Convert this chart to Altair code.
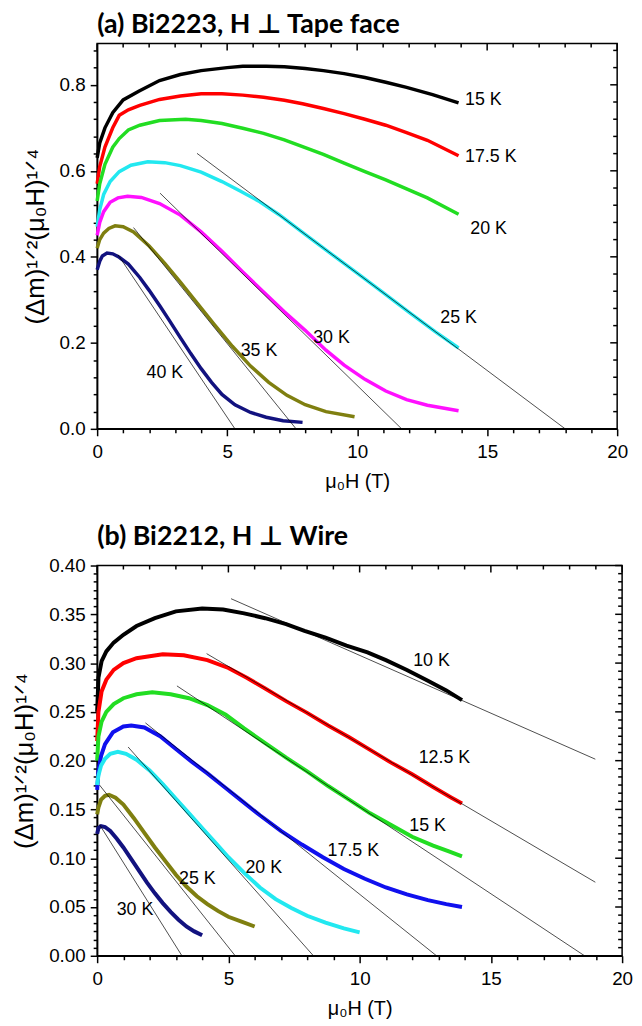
import altair as alt
import pandas as pd

# ---------------- common axis tick values ----------------
x_ticks = list(range(0, 21))
a_y_ticks = [round(0.04 * k, 2) for k in range(23)]
b_y_ticks = [round(0.05 * k / 6, 5) for k in range(49)]

# ---------------- Panel (a) Bi2223 ----------------
a_series = ["15 K", "17.5 K", "20 K", "25 K", "30 K", "35 K", "40 K"]
a_colors = ["#000000", "#ff0000", "#22dd22", "#22e8f0", "#ff10ff", "#7f7f10", "#12127f"]

a15_H = [0, 0.1, 0.3, 0.6, 1.0, 1.6, 2.4, 3.2, 4.0, 5.0, 5.6, 6.5, 7.2, 8.0, 8.7, 9.5, 10.3, 11.1, 11.9, 12.9, 13.9]
a15_v = [0.63, 0.665, 0.70, 0.735, 0.765, 0.785, 0.81, 0.824, 0.833, 0.840, 0.843, 0.843, 0.842, 0.838, 0.833, 0.826, 0.817, 0.806, 0.794, 0.777, 0.758]
a175_H = [0, 0.1, 0.3, 0.6, 0.85, 1.2, 1.64, 2.4, 3.2, 4.0, 4.8, 5.6, 6.4, 7.2, 7.9, 8.7, 9.5, 10.3, 11.1, 11.9, 12.7, 13.9]
a175_v = [0.57, 0.61, 0.655, 0.70, 0.729, 0.742, 0.752, 0.766, 0.774, 0.779, 0.779, 0.776, 0.771, 0.764, 0.756, 0.745, 0.733, 0.720, 0.706, 0.689, 0.671, 0.635]
a20_H = [0, 0.1, 0.3, 0.6, 0.85, 1.2, 1.64, 2.4, 3.4, 4.0, 4.8, 5.6, 6.4, 7.2, 7.9, 8.7, 9.5, 10.3, 11.1, 11.9, 12.7, 13.9]
a20_v = [0.53, 0.57, 0.615, 0.655, 0.675, 0.695, 0.706, 0.717, 0.720, 0.717, 0.710, 0.699, 0.687, 0.672, 0.656, 0.638, 0.618, 0.598, 0.579, 0.558, 0.537, 0.499]
a25_H = [0, 0.1, 0.25, 0.5, 0.85, 1.3, 1.95, 2.6, 3.2, 4.0, 4.8, 5.5, 6.2, 7.0, 8.0, 9.0, 10.0, 11.0, 12.0, 13.0, 13.9]
a25_v = [0.47, 0.51, 0.545, 0.575, 0.598, 0.613, 0.621, 0.619, 0.612, 0.597, 0.575, 0.553, 0.530, 0.498, 0.452, 0.407, 0.362, 0.317, 0.271, 0.226, 0.188]
a30_H = [0, 0.1, 0.25, 0.5, 0.8, 1.17, 1.7, 2.4, 3.2, 4.0, 4.8, 5.6, 6.4, 7.2, 8.0, 8.8, 9.5, 10.3, 11.1, 11.9, 12.7, 13.9]
a30_v = [0.45, 0.48, 0.505, 0.527, 0.537, 0.541, 0.538, 0.524, 0.497, 0.458, 0.413, 0.365, 0.318, 0.272, 0.229, 0.183, 0.148, 0.115, 0.088, 0.068, 0.055, 0.042]
a35_H = [0, 0.1, 0.25, 0.45, 0.69, 1.0, 1.4, 2.0, 2.6, 3.2, 3.8, 4.5, 5.2, 5.9, 6.6, 7.3, 8.0, 8.8, 9.9]
a35_v = [0.42, 0.44, 0.455, 0.466, 0.472, 0.470, 0.458, 0.425, 0.385, 0.341, 0.296, 0.243, 0.192, 0.146, 0.108, 0.078, 0.056, 0.040, 0.028]
a40_H = [0, 0.1, 0.2, 0.38, 0.6, 0.85, 1.2, 1.64, 2.0, 2.42, 2.8, 3.2, 3.6, 4.0, 4.4, 4.8, 5.3, 5.9, 6.5, 7.15, 7.9]
a40_v = [0.37, 0.39, 0.402, 0.409, 0.407, 0.399, 0.383, 0.352, 0.322, 0.285, 0.25, 0.212, 0.175, 0.14, 0.108, 0.08, 0.056, 0.038, 0.027, 0.019, 0.015]

a_fit_id = ["25 K", "25 K", "30 K", "30 K", "35 K", "35 K", "40 K", "40 K"]
a_fit_H = [3.84, 18.0, 2.42, 11.71, 1.4, 7.65, 0.8, 5.3]
a_fit_v = [0.6406, 0.0, 0.548, 0.0, 0.468, 0.0, 0.405, 0.0]

a_lab_text = ["15 K", "17.5 K", "20 K", "25 K", "30 K", "35 K", "40 K"]
a_lab_H = [14.15, 14.15, 14.35, 13.2, 8.31, 5.52, 1.9]
a_lab_v = [0.764, 0.633, 0.464, 0.257, 0.211, 0.182, 0.13]

# ---------------- Panel (b) Bi2212 ----------------
b_series = ["10 K", "12.5 K", "15 K", "17.5 K", "20 K", "25 K", "30 K"]
b_colors = ["#000000", "#ff0000", "#22dd22", "#1010ee", "#22e8f0", "#7f7f10", "#12127f"]

b10_H = [0, 0.05, 0.17, 0.35, 0.63, 1.0, 1.5, 2.2, 3.0, 4.0, 4.8, 5.6, 6.4, 7.2, 7.9, 8.7, 9.5, 10.3, 11.0, 11.8, 12.6, 13.3, 13.9]
b10_v = [0.25, 0.285, 0.302, 0.312, 0.321, 0.329, 0.338, 0.346, 0.353, 0.356, 0.355, 0.351, 0.346, 0.340, 0.333, 0.326, 0.318, 0.311, 0.303, 0.293, 0.282, 0.272, 0.262]
b125_H = [0, 0.05, 0.17, 0.35, 0.63, 1.0, 1.5, 2.5, 3.3, 4.2, 5.0, 5.7, 6.4, 7.2, 8.0, 8.8, 9.6, 10.4, 11.2, 12.0, 12.8, 13.5, 13.9]
b125_v = [0.22, 0.25, 0.271, 0.283, 0.293, 0.300, 0.305, 0.309, 0.308, 0.303, 0.295, 0.285, 0.274, 0.261, 0.249, 0.236, 0.224, 0.211, 0.198, 0.186, 0.173, 0.162, 0.156]
b15_H = [0, 0.05, 0.17, 0.35, 0.63, 1.0, 1.5, 2.1, 2.8, 3.5, 4.2, 4.9, 5.6, 6.4, 7.2, 8.0, 8.8, 9.6, 10.4, 11.2, 12.0, 12.8, 13.4, 13.9]
b15_v = [0.20, 0.225, 0.24, 0.25, 0.258, 0.264, 0.268, 0.27, 0.268, 0.264, 0.257, 0.247, 0.233, 0.218, 0.203, 0.189, 0.174, 0.160, 0.146, 0.134, 0.122, 0.113, 0.107, 0.102]
b175_H = [0, 0.05, 0.15, 0.3, 0.6, 1.0, 1.3, 1.8, 2.4, 3.0, 3.6, 4.2, 4.8, 5.5, 6.2, 7.0, 7.8, 8.6, 9.4, 10.2, 11.0, 11.8, 12.6, 13.3, 13.9]
b175_v = [0.17, 0.19, 0.205, 0.217, 0.229, 0.235, 0.236, 0.234, 0.225, 0.212, 0.199, 0.187, 0.174, 0.159, 0.144, 0.128, 0.114, 0.101, 0.089, 0.079, 0.070, 0.063, 0.057, 0.053, 0.05]
b20_H = [0, 0.05, 0.15, 0.3, 0.5, 0.79, 1.1, 1.5, 2.0, 2.5, 3.0, 3.5, 4.0, 4.5, 5.0, 5.6, 6.2, 6.8, 7.4, 8.0, 8.7, 9.4, 10.0]
b20_v = [0.175, 0.185, 0.195, 0.202, 0.207, 0.209, 0.207, 0.201, 0.19, 0.176, 0.161, 0.146, 0.131, 0.116, 0.101, 0.085, 0.070, 0.058, 0.049, 0.041, 0.034, 0.028, 0.024]
b25_H = [0, 0.05, 0.15, 0.3, 0.45, 0.7, 1.0, 1.4, 1.8, 2.2, 2.6, 3.0, 3.4, 3.8, 4.2, 4.6, 5.0, 5.5, 6.0]
b25_v = [0.145, 0.152, 0.16, 0.164, 0.165, 0.162, 0.155, 0.141, 0.126, 0.111, 0.097, 0.083, 0.071, 0.061, 0.053, 0.046, 0.040, 0.035, 0.030]
b30_H = [0, 0.05, 0.15, 0.3, 0.5, 0.75, 1.0, 1.3, 1.6, 1.9, 2.2, 2.5, 2.8, 3.1, 3.4, 3.7, 4.0]
b30_v = [0.125, 0.131, 0.133, 0.132, 0.128, 0.12, 0.111, 0.099, 0.087, 0.075, 0.064, 0.054, 0.045, 0.037, 0.030, 0.025, 0.021]

b_fit_id = ["10 K", "10 K", "12.5 K", "12.5 K", "15 K", "15 K", "17.5 K", "17.5 K",
            "20 K", "20 K", "25 K", "25 K", "30 K", "30 K"]
b_fit_H = [5.1, 18.98, 4.17, 18.98, 3.04, 18.57, 1.84, 12.93, 1.18, 8.24, 0.09, 5.26, 0.09, 3.23]
b_fit_v = [0.366, 0.2015, 0.3097, 0.0754, 0.2766, 0.0, 0.2387, 0.0, 0.214, 0.0, 0.175, 0.0, 0.1345, 0.0]

b_lab_text = ["10 K", "12.5 K", "15 K", "17.5 K", "20 K", "25 K", "30 K"]
b_lab_H = [12.04, 12.25, 11.89, 8.78, 5.65, 3.12, 0.745]
b_lab_v = [0.3026, 0.2022, 0.1329, 0.1075, 0.0896, 0.0787, 0.0467]

FONT = "Liberation Sans"
TITLE_FONT = "Lato, DejaVu Sans"


def curves_df(names, Hs, vs):
    rows = []
    for n, H, v in zip(names, Hs, vs):
        for i, (h, y) in enumerate(zip(H, v)):
            rows.append({"series": n, "H": h, "v": y, "i": i})
    return pd.DataFrame(rows)


def panel(title, names, colors, Hs, vs, fit_id, fit_H, fit_v, lab_t, lab_H, lab_v,
          ymax, y_ticks, major_mult, yfmt, W, Hh, sw, toff):
    cdf = curves_df(names, Hs, vs)
    fdf = pd.DataFrame({"id": fit_id, "H": fit_H, "v": fit_v})
    ldf = pd.DataFrame({"t": lab_t, "H": lab_H, "v": lab_v})
    ymaj_test = f"abs(datum.value*{major_mult} - round(datum.value*{major_mult})) < 1e-6"

    xaxis = alt.Axis(values=x_ticks, title="μ₀H (T)", grid=False,
                     tickSize={"condition": {"test": "datum.value % 5 === 0", "value": 7}, "value": 4},
                     labelExpr="datum.value % 5 === 0 ? datum.label : ''",
                     labelOverlap=False, labelFlush=False, labelPadding=7,
                     domainColor="black", domainWidth=1.5, tickColor="black", tickWidth=1.5,
                     labelFontSize=19, titleFontSize=20, labelColor="black", titleColor="black",
                     titleFontWeight="normal", labelFont=FONT, titleFont=FONT, titlePadding=10)
    yaxis = alt.Axis(values=y_ticks, title="(Δm)¹ᐟ²(μ₀H)¹ᐟ⁴", grid=False, format=yfmt,
                     tickSize={"condition": {"test": ymaj_test, "value": 7}, "value": 4},
                     labelExpr=f"({ymaj_test}) ? datum.label : ''",
                     labelOverlap=False, labelFlush=False, labelPadding=5,
                     domainColor="black", domainWidth=1.5, tickColor="black", tickWidth=1.5,
                     labelFontSize=19, titleFontSize=26, labelColor="black", titleColor="black",
                     titleFontWeight="normal", labelFont=FONT, titleFont=FONT, titlePadding=11)
    xs = alt.Scale(domain=[0, 20], nice=False)
    ys = alt.Scale(domain=[0, ymax], nice=False)

    def X(f):
        return alt.X(f, scale=xs, axis=xaxis)

    def Y(f):
        return alt.Y(f, scale=ys, axis=yaxis)

    fits = alt.Chart(fdf).mark_line(color="black", strokeWidth=0.7).encode(
        x=X("H:Q"), y=Y("v:Q"), detail="id:N")
    curves = alt.Chart(cdf).mark_line(strokeWidth=sw).encode(
        x=X("H:Q"), y=Y("v:Q"),
        color=alt.Color("series:N", scale=alt.Scale(domain=names, range=colors), legend=None),
        order="i:Q")
    labels = alt.Chart(ldf).mark_text(align="left", baseline="middle", fontSize=18,
                                      font=FONT, color="black").encode(
        x=X("H:Q"), y=Y("v:Q"), text="t:N")

    xt_major = pd.DataFrame({"H": [t for t in x_ticks if t % 5 == 0]})
    xt_minor = pd.DataFrame({"H": [t for t in x_ticks if t % 5 != 0]})
    yt_major = pd.DataFrame({"v": [t for t in y_ticks if abs(t * major_mult - round(t * major_mult)) < 1e-6]})
    yt_minor = pd.DataFrame({"v": [t for t in y_ticks if abs(t * major_mult - round(t * major_mult)) >= 1e-6]})

    top_maj = alt.Chart(xt_major).mark_rule(color="black", strokeWidth=1.5).encode(
        x=X("H:Q"), y=alt.value(0), y2=alt.value(7))
    top_min = alt.Chart(xt_minor).mark_rule(color="black", strokeWidth=1.5).encode(
        x=X("H:Q"), y=alt.value(0), y2=alt.value(4))
    right_maj = alt.Chart(yt_major).mark_rule(color="black", strokeWidth=1.5).encode(
        y=Y("v:Q"), x=alt.value(W), x2=alt.value(W - 7))
    right_min = alt.Chart(yt_minor).mark_rule(color="black", strokeWidth=1.5).encode(
        y=Y("v:Q"), x=alt.value(W), x2=alt.value(W - 4))

    return alt.layer(curves, fits, labels, top_maj, top_min, right_maj, right_min).properties(
        width=W, height=Hh,
        title=alt.TitleParams(title, anchor="start", frame="group", fontSize=27,
                              font=TITLE_FONT, fontWeight="bold", color="black", offset=toff))


a_chart = panel("(a) Bi2223, H ⊥ Tape face", a_series, a_colors,
                [a15_H, a175_H, a20_H, a25_H, a30_H, a35_H, a40_H],
                [a15_v, a175_v, a20_v, a25_v, a30_v, a35_v, a40_v],
                a_fit_id, a_fit_H, a_fit_v, a_lab_text, a_lab_H, a_lab_v,
                0.896, a_y_ticks, 5, ".1f", 525, 389, 3.5, 3)
b_chart = panel("(b) Bi2212, H ⊥ Wire", b_series, b_colors,
                [b10_H, b125_H, b15_H, b175_H, b20_H, b25_H, b30_H],
                [b10_v, b125_v, b15_v, b175_v, b20_v, b25_v, b30_v],
                b_fit_id, b_fit_H, b_fit_v, b_lab_text, b_lab_H, b_lab_v,
                0.40, b_y_ticks, 20, ".2f", 530, 394, 4, 6)

chart = alt.vconcat(a_chart, b_chart, spacing=30).properties(
    padding={"left": 3, "top": -3, "right": 0, "bottom": 0}
).configure_view(stroke="black", strokeWidth=1.5).configure_axis(labelOverlap=False).resolve_scale(
    color="independent")

chart.save("out.html", embed_options={"renderer": "svg", "actions": False})
